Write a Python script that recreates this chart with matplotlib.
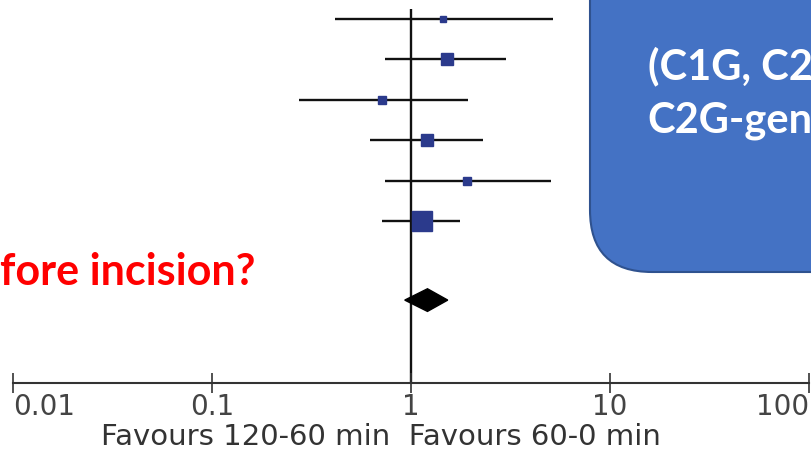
import numpy as np
import matplotlib.pyplot as plt
from matplotlib.patches import FancyBboxPatch, Polygon

# study rows (odds ratio, 95% CI), weight in percent
odds = [1.45, 1.52, 0.715, 1.20, 1.91, 1.14]
ci_lo = [0.415, 0.74, 0.274, 0.62, 0.74, 0.715]
ci_hi = [5.17, 3.00, 1.93, 2.30, 5.06, 1.76]
weight = [2.8, 18.6, 8.9, 18.6, 7.0, 44.1]

# pooled estimate
pooled = 1.21
pooled_lo = 0.93
pooled_hi = 1.53

tick_vals = [0.01, 0.1, 1, 10, 100]
tick_labels = ['0.01', '0.1', '1', '10', '100']

W, H = 812, 453
fig = plt.figure(figsize=(W / 100, H / 100), dpi=100)

# forest plot axes, covers pixel rows 0..383
ax = fig.add_axes([0, 70 / H, 1, 383 / H])
ax.set_xscale('log')
ax.set_xlim(10 ** (-411 / 199), 10 ** (401 / 199))
ax.set_ylim(9, -0.47)

rows = np.arange(len(odds))
ax.hlines(rows, ci_lo, ci_hi, color='#111111', lw=1.7, zorder=2)
side_px = 3.0 * np.sqrt(weight)
for y, x, s in zip(rows, odds, side_px):
    ax.plot(x, y, marker='s', ms=s * 0.72, color='#2b3a8c', mec='#2b3a8c', zorder=3)

ax.vlines(1, -0.25, 9, color='#111111', lw=1.7, zorder=1)

yd = 6.95
dia = Polygon([[pooled_lo, yd], [pooled, yd - 0.28], [pooled_hi, yd], [pooled, yd + 0.28]],
              closed=True, color='black', zorder=3)
ax.add_patch(dia)

for s in ['top', 'left', 'right']:
    ax.spines[s].set_visible(False)
ax.spines['bottom'].set_bounds(0.01, 100)
ax.spines['bottom'].set_color('#333333')
ax.spines['bottom'].set_linewidth(1.5)
ax.set_yticks([])
ax.set_xticks(tick_vals)
ax.set_xticklabels(tick_labels)
ax.xaxis.set_minor_locator(plt.NullLocator())
ax.tick_params(axis='x', direction='inout', length=14, width=1.2, color='#333333',
               labelsize=20, labelcolor='#444444', pad=0)
lbls = ax.get_xticklabels()
lbls[0].set_ha('left')
lbls[-1].set_ha('right')
ax.patch.set_alpha(0)

# overlay in pixel coordinates for the slide elements
ov = fig.add_axes([0, 0, 1, 1], zorder=5)
ov.set_xlim(0, W)
ov.set_ylim(H, 0)
ov.axis('off')
ov.patch.set_alpha(0)

box = FancyBboxPatch((590, -100), 400, 372, boxstyle='round,pad=0,rounding_size=62',
                     fc='#4472c4', ec='#2f528f', lw=1.5)
ov.add_patch(box)
ov.text(648, 79, '(C1G, C2', color='white', fontsize=30, fontweight='bold',
        family='Lato', ha='left', va='baseline')
ov.text(647, 132, 'C2G-gen', color='white', fontsize=30, fontweight='bold',
        family='Lato', ha='left', va='baseline')
ov.text(0, 285, 'fore incision?', color='#ff0000', fontsize=31, fontweight='bold',
        family='Lato', ha='left', va='baseline')

ov.text(381, 437, 'Favours 120-60 min  Favours 60-0 min', color='#333333',
        fontsize=21, ha='center', va='center')

fig.savefig('out.png', dpi=100)
